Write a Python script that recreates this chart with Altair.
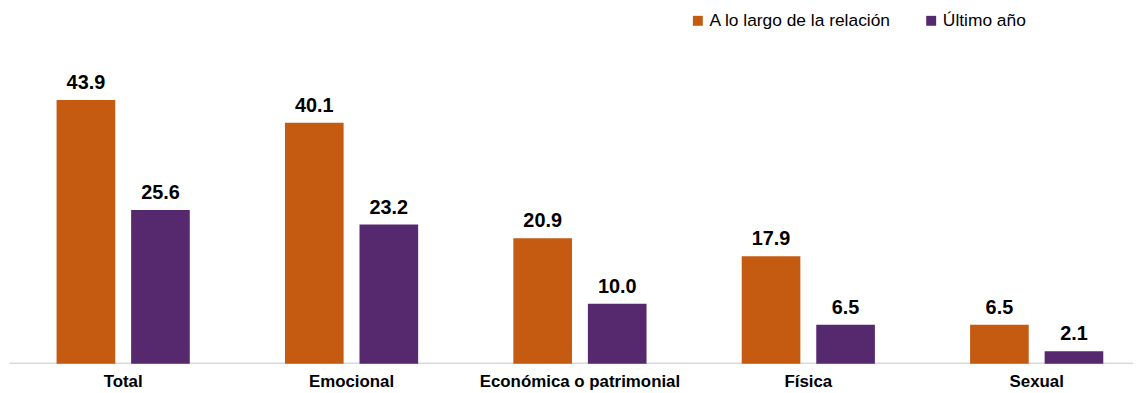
import altair as alt
import pandas as pd

categories = ["Total", "Emocional", "Económica o patrimonial", "Física", "Sexual"]
series = ["A lo largo de la relación", "Último año"]
a_lo_largo = [43.9, 40.1, 20.9, 17.9, 6.5]
ultimo_anio = [25.6, 23.2, 10.0, 6.5, 2.1]
colors = ["#C55A11", "#56296F"]

rows = []
for i, c in enumerate(categories):
    rows.append({"cat": c, "serie": series[0], "val": a_lo_largo[i], "lab": f"{a_lo_largo[i]:.1f}"})
    rows.append({"cat": c, "serie": series[1], "val": ultimo_anio[i], "lab": f"{ultimo_anio[i]:.1f}"})
df = pd.DataFrame(rows)

FONT = "Liberation Sans"
H = 302.6

x = alt.X("cat:N", sort=categories, title=None,
          scale=alt.Scale(paddingInner=0.4168, paddingOuter=0.2084),
          axis=alt.Axis(labelAngle=0, labelFont=FONT, labelFontSize=17, labelFontWeight="bold",
                        labelColor="#000000", labelPadding=11, ticks=False, domainColor="#D9D9D9",
                        domainWidth=1.5, labelLimit=400, offset=-1))
xo = alt.XOffset("serie:N", sort=series, scale=alt.Scale(paddingInner=0.2133, paddingOuter=0))
y = alt.Y("val:Q", scale=alt.Scale(domain=[0, 50], nice=False), axis=None)

bars = alt.Chart(df).mark_bar().encode(
    x=x, xOffset=xo, y=y,
    color=alt.Color("serie:N", sort=series, scale=alt.Scale(domain=series, range=colors),
                    legend=alt.Legend(title=None, orient="none", legendX=685, legendY=-52,
                                      direction="horizontal", symbolType="square", symbolSize=100,
                                      labelFont=FONT, labelFontSize=17.5, labelColor="#000000",
                                      labelOffset=3, columnPadding=31, symbolStrokeWidth=0,
                                      labelLimit=400)),
)
text = alt.Chart(df).mark_text(baseline="alphabetic", dy=-11, font=FONT, fontSize=20,
                               fontWeight="bold", color="#000000").encode(
    x=x, xOffset=xo, y=y, text="lab:N")

chart = (bars + text).properties(
    width=1150, height=H, autosize=alt.AutoSizeParams(type="none"),
    padding={"left": 1, "top": 54.4, "right": -18, "bottom": 30},
).configure_view(stroke=None)

chart.save("out.html", embed_options={"renderer": "svg", "actions": False})
